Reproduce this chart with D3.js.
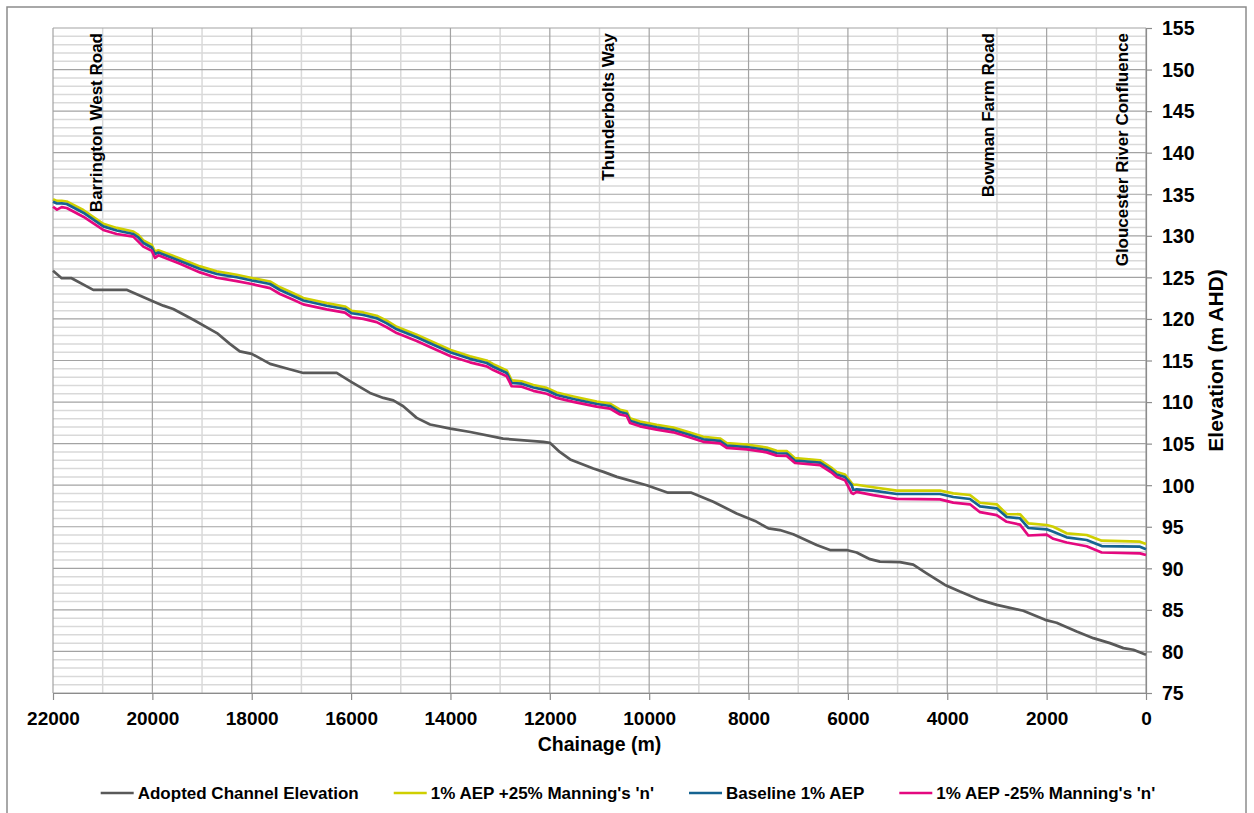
<!DOCTYPE html>
<html>
<head>
<meta charset="utf-8">
<script src="https://cdnjs.cloudflare.com/ajax/libs/d3/7.8.5/d3.min.js"></script>
<style>
body { margin: 0; background: #fff; }
svg { font-family: "Liberation Sans", Arial, sans-serif; }
</style>
</head>
<body>
<div id="svg-container"></div>
<script>
// ----------------------------------------------------------------------
// Data (read off the long section)
// ----------------------------------------------------------------------

// Adopted channel (bed) elevation
var channelChainage = [22000, 21825, 21625, 21190, 20520, 19980, 19780, 19580, 19175, 18700,
    18440, 18240, 18000, 17630, 17330, 16960, 16290, 15990, 15620, 15350,
    15150, 14950, 14680, 14410, 14000, 13600, 12940, 12130, 12000, 11800,
    11590, 11125, 10920, 10650, 10050, 9620, 9150, 8710, 8240, 7870,
    7600, 7370, 7100, 6630, 6360, 6025, 5825, 5555, 5355, 4950,
    4685, 4415, 4045, 3745, 3340, 3005, 2470, 2030, 1800, 1395,
    1060, 725, 455, 255, 0];
var channelElevation = [125.8, 124.9, 124.9, 123.5, 123.5, 122.1, 121.6, 121.2, 119.9, 118.3,
    117.0, 116.1, 115.8, 114.6, 114.1, 113.5, 113.5, 112.4, 111.1, 110.5,
    110.2, 109.5, 108.1, 107.3, 106.8, 106.4, 105.6, 105.2, 105.1, 104.0,
    103.1, 102.0, 101.6, 101.0, 100.0, 99.1, 99.1, 98.0, 96.6, 95.7,
    94.8, 94.6, 94.1, 92.8, 92.2, 92.2, 91.9, 91.1, 90.8, 90.75,
    90.45, 89.4, 88.0, 87.2, 86.2, 85.6, 84.9, 83.8, 83.45, 82.4,
    81.6, 81.0, 80.4, 80.2, 79.6];

// Flood levels, all three runs share the same chainages
var floodChainage = [22000, 21920, 21825, 21724, 21390, 20988, 20718, 20384, 20283, 20182,
    20013, 19947, 19880, 19444, 19041, 18705, 18303, 18000, 17632, 17431,
    17163, 16962, 16491, 16123, 15988, 15754, 15485, 15283, 15082, 14679,
    14412, 13995, 13607, 13271, 13138, 12868, 12767, 12566, 12332, 12063,
    11861, 11527, 11056, 10789, 10587, 10452, 10386, 10184, 9849, 9514,
    9178, 8911, 8575, 8440, 8037, 7635, 7434, 7232, 7065, 6562,
    6335, 6226, 6059, 5924, 5892, 5824, 5490, 5018, 4147, 3879,
    3543, 3341, 3005, 2804, 2536, 2369, 2000, 1866, 1597, 1194,
    892, 121, 0];
var plusNElevation = [134.40, 134.20, 134.22, 134.13, 133.10, 131.45, 130.95, 130.52, 130.10, 129.45,
    128.90, 128.10, 128.25, 127.28, 126.32, 125.72, 125.32, 124.93, 124.50, 123.80,
    123.08, 122.52, 121.90, 121.50, 120.98, 120.78, 120.38, 119.78, 119.05, 118.10,
    117.38, 116.26, 115.50, 115.00, 114.55, 113.80, 112.60, 112.50, 112.05, 111.70,
    111.15, 110.67, 110.05, 109.82, 109.08, 108.88, 108.05, 107.65, 107.25, 106.92,
    106.32, 105.82, 105.62, 105.07, 104.88, 104.52, 104.14, 104.10, 103.25, 103.00,
    102.12, 101.58, 101.28, 100.25, 100.05, 100.05, 99.75, 99.35, 99.35, 99.02,
    98.82, 97.89, 97.70, 96.53, 96.50, 95.41, 95.21, 95.00, 94.21, 94.01,
    93.32, 93.20, 92.93];
var baselineElevation = [134.10, 133.89, 133.91, 133.83, 132.78, 131.14, 130.64, 130.22, 129.80, 129.14,
    128.59, 127.81, 127.99, 126.97, 126.01, 125.41, 125.01, 124.62, 124.20, 123.48,
    122.76, 122.22, 121.59, 121.20, 120.68, 120.47, 120.08, 119.47, 118.75, 117.79,
    117.07, 115.96, 115.20, 114.70, 114.25, 113.50, 112.29, 112.21, 111.75, 111.41,
    110.85, 110.37, 109.77, 109.53, 108.80, 108.60, 107.76, 107.36, 106.96, 106.64,
    106.04, 105.52, 105.32, 104.77, 104.59, 104.23, 103.84, 103.81, 102.95, 102.71,
    101.83, 101.29, 100.98, 100.02, 99.42, 99.50, 99.34, 98.94, 98.94, 98.58,
    98.34, 97.46, 97.22, 96.17, 96.02, 94.85, 94.69, 94.40, 93.73, 93.41,
    92.68, 92.60, 92.29];
var minusNElevation = [133.50, 133.15, 133.45, 133.35, 132.30, 130.70, 130.22, 129.90, 129.30, 128.70,
    128.20, 127.35, 127.65, 126.65, 125.60, 124.95, 124.55, 124.20, 123.70, 123.00,
    122.30, 121.75, 121.15, 120.75, 120.20, 120.00, 119.62, 119.00, 118.30, 117.35,
    116.62, 115.52, 114.78, 114.30, 113.85, 113.10, 111.90, 111.85, 111.35, 111.00,
    110.50, 110.02, 109.45, 109.22, 108.50, 108.32, 107.48, 107.08, 106.68, 106.36,
    105.74, 105.22, 105.02, 104.48, 104.30, 103.95, 103.56, 103.52, 102.67, 102.42,
    101.55, 101.00, 100.60, 99.05, 98.95, 99.20, 98.80, 98.36, 98.30, 97.90,
    97.70, 96.75, 96.40, 95.60, 95.25, 93.95, 94.05, 93.55, 93.10, 92.65,
    91.90, 91.80, 91.60];

var seriesNames = ["Adopted Channel Elevation", "1% AEP +25% Manning's 'n'",
    "Baseline 1% AEP", "1% AEP -25% Manning's 'n'"];

var xTicks = [22000, 20000, 18000, 16000, 14000, 12000, 10000, 8000, 6000, 4000, 2000, 0];
var yTicks = [75, 80, 85, 90, 95, 100, 105, 110, 115, 120, 125, 130, 135, 140, 145, 150, 155];

// Road / confluence labels along the reach
var roadNames = ["Barrington West Road", "Thunderbolts Way", "Bowman Farm Road", "Gloucester River Confluence"];
var roadChainage = [21020, 10700, 3060, 360];

// ----------------------------------------------------------------------
// Configuration
// ----------------------------------------------------------------------
var config = {
    svgWidth: 1254,
    svgHeight: 813,
    margin: {top: 28, right: 108, bottom: 120, left: 53},
    colors: ["#595959", "#cfcf00", "#156391", "#e4087f"],
    lineWidth: 2.7,
    majorGrid: "#a3a3a3",
    minorGrid: "#d9d9d9",
    axisColor: "#8c8c8c"
};

var width = config.svgWidth - config.margin.left - config.margin.right;   // 1093
var height = config.svgHeight - config.margin.top - config.margin.bottom; // 665

var x = d3.scaleLinear().domain([22000, 0]).range([0, width]);
var y = d3.scaleLinear().domain([75, 155]).range([height, 0]);

var root = d3.select("#svg-container")
    .append("svg")
    .attr("width", config.svgWidth)
    .attr("height", config.svgHeight);

// Outer chart border
root.append("rect")
    .attr("x", 7).attr("y", 7)
    .attr("width", 1239).attr("height", 830)
    .style("fill", "none")
    .style("stroke", "#8c8c8c")
    .style("stroke-width", 1.5);

var svg = root.append("g")
    .attr("transform", "translate(" + config.margin.left + "," + config.margin.top + ")");

// --------------------------------------------------
// Gridlines
// --------------------------------------------------
var minorX = d3.range(22000, -1, -1000).filter(function(d) { return d % 2000 != 0; });
var minorY = d3.range(75, 156, 1).filter(function(d) { return d % 5 != 0; });

svg.selectAll(".minor-y")
    .data(minorY).enter().append("line")
    .attr("x1", 0).attr("x2", width)
    .attr("y1", function(d) { return y(d); })
    .attr("y2", function(d) { return y(d); })
    .style("stroke", config.minorGrid).style("stroke-width", 1.5);

svg.selectAll(".minor-x")
    .data(minorX).enter().append("line")
    .attr("y1", 0).attr("y2", height)
    .attr("x1", function(d) { return x(d); })
    .attr("x2", function(d) { return x(d); })
    .style("stroke", config.minorGrid).style("stroke-width", 1.5);

svg.selectAll(".major-y")
    .data(yTicks).enter().append("line")
    .attr("x1", 0).attr("x2", width)
    .attr("y1", function(d) { return y(d); })
    .attr("y2", function(d) { return y(d); })
    .style("stroke", config.majorGrid).style("stroke-width", 1.2);

svg.selectAll(".major-x")
    .data(xTicks).enter().append("line")
    .attr("y1", 0).attr("y2", height)
    .attr("x1", function(d) { return x(d); })
    .attr("x2", function(d) { return x(d); })
    .style("stroke", config.majorGrid).style("stroke-width", 1.2);

// --------------------------------------------------
// Axes
// --------------------------------------------------
var xAxis = svg.append("g")
    .attr("transform", "translate(0," + height + ")")
    .call(d3.axisBottom(x).tickValues(xTicks).tickSize(7).tickSizeOuter(0).tickFormat(d3.format("d")));

xAxis.selectAll("text")
    .attr("y", 32).attr("dy", null)
    .style("font-size", "19px").style("font-weight", "bold").style("fill", "#000");

var yAxis = svg.append("g")
    .attr("transform", "translate(" + width + ",0)")
    .call(d3.axisRight(y).tickValues(yTicks).tickSize(6).tickSizeOuter(0).tickPadding(10));

yAxis.selectAll("text")
    .attr("dy", "0.35em")
    .style("font-size", "19.5px").style("font-weight", "bold").style("fill", "#000");

svg.selectAll(".domain, .tick line").style("stroke", config.axisColor).style("stroke-width", 1.2);

// Axis titles
svg.append("text")
    .attr("x", width / 2)
    .attr("y", height + 58)
    .style("text-anchor", "middle")
    .style("font-size", "19.5px").style("font-weight", "bold")
    .text("Chainage (m)");

svg.append("text")
    .attr("transform", "translate(" + (width + 77) + "," + (height / 2) + ") rotate(-90)")
    .style("text-anchor", "middle")
    .style("font-size", "21px").style("font-weight", "bold")
    .text("Elevation (m AHD)");

// --------------------------------------------------
// Series
// --------------------------------------------------
function makeSeries(chainage, elevation) {
    return chainage.map(function(c, i) { return {c: c, e: elevation[i]}; });
}

var series = [
    makeSeries(channelChainage, channelElevation),
    makeSeries(floodChainage, plusNElevation),
    makeSeries(floodChainage, baselineElevation),
    makeSeries(floodChainage, minusNElevation)
];

var line = d3.line()
    .x(function(d) { return x(d.c); })
    .y(function(d) { return y(d.e); });

svg.selectAll(".series")
    .data(series).enter().append("path")
    .attr("d", line)
    .style("fill", "none")
    .style("stroke", function(d, i) { return config.colors[i]; })
    .style("stroke-width", config.lineWidth)
    .style("stroke-linejoin", "round");

// Road labels, vertical, hanging from the top of the plot
svg.selectAll(".road")
    .data(roadNames).enter().append("text")
    .attr("transform", function(d, i) { return "translate(" + x(roadChainage[i]) + ",5) rotate(-90)"; })
    .style("text-anchor", "end")
    .style("font-size", "17px").style("font-weight", "bold")
    .text(function(d) { return d; });

// --------------------------------------------------
// Legend
// --------------------------------------------------
var legendGap = 35;
var legend = root.append("g");
var legendX = 0;
seriesNames.forEach(function(name, i) {
    var g = legend.append("g");
    g.append("line")
        .attr("x1", 0).attr("x2", 33)
        .style("stroke", config.colors[i]).style("stroke-width", config.lineWidth);
    var t = g.append("text")
        .attr("x", 37).attr("y", 6)
        .style("font-size", "17px").style("font-weight", "bold")
        .text(name);
    var w = 37 + t.node().getComputedTextLength();
    g.attr("transform", "translate(" + legendX + ",0)");
    legendX += w + legendGap;
});
legendX -= legendGap;
legend.attr("transform", "translate(" + (628 - legendX / 2) + ",793)");
</script>
</body>
</html>
